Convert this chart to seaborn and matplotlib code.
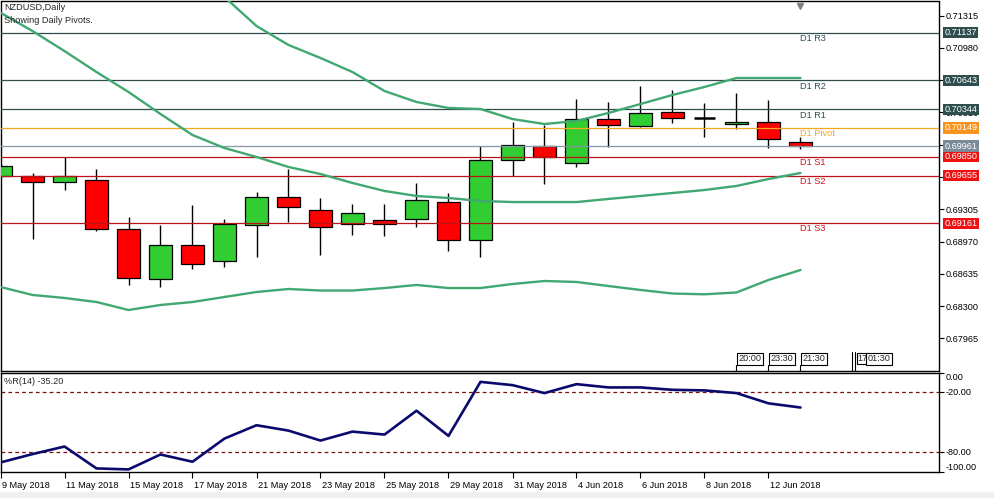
import numpy as np
import pandas as pd
import matplotlib
matplotlib.use("Agg")
import matplotlib.pyplot as plt
from matplotlib.transforms import ScaledTranslation, blended_transform_factory
from matplotlib.patches import Rectangle
import seaborn as sns

# ---------------- data ----------------
dates = ["9 May 2018", "10 May 2018", "11 May 2018", "14 May 2018", "15 May 2018",
         "16 May 2018", "17 May 2018", "18 May 2018", "21 May 2018", "22 May 2018",
         "23 May 2018", "24 May 2018", "25 May 2018", "28 May 2018", "29 May 2018",
         "30 May 2018", "31 May 2018", "1 Jun 2018", "4 Jun 2018", "5 Jun 2018",
         "6 Jun 2018", "7 Jun 2018", "8 Jun 2018", "11 Jun 2018", "12 Jun 2018",
         "13 Jun 2018"]

opens  = [0.69654, 0.69650, 0.69591, 0.69609, 0.69100, 0.68578, 0.68931, 0.68765,
          0.69139, 0.69429, 0.69294, 0.69149, 0.69190, 0.69201, 0.69377, 0.68983,
          0.69814, 0.69959, 0.69782, 0.70239, 0.70167, 0.70312, 0.70256, 0.70187,
          0.70208, 0.70000]
highs  = [0.69775, 0.69685, 0.69845, 0.69723, 0.69222, 0.69139, 0.69346, 0.69204,
          0.69484, 0.69723, 0.69419, 0.69360, 0.69360, 0.69575, 0.69471, 0.69962,
          0.70208, 0.70183, 0.70447, 0.70419, 0.70585, 0.70544, 0.70405, 0.70509,
          0.70440, 0.70059]
lows   = [0.69640, 0.68999, 0.69505, 0.69082, 0.68519, 0.68495, 0.68688, 0.68709,
          0.68813, 0.69176, 0.68835, 0.69038, 0.69031, 0.69124, 0.68875, 0.68806,
          0.69650, 0.69571, 0.69739, 0.69949, 0.70159, 0.70198, 0.70059, 0.70139,
          0.69944, 0.69928]
closes = [0.69754, 0.69591, 0.69650, 0.69097, 0.68588, 0.68931, 0.68734, 0.69149,
          0.69429, 0.69325, 0.69118, 0.69263, 0.69149, 0.69398, 0.68983, 0.69814,
          0.69969, 0.69845, 0.70239, 0.70177, 0.70302, 0.70250, 0.70256, 0.70211,
          0.70032, 0.69961]

band_upper = [np.nan, np.nan, np.nan, np.nan, np.nan, np.nan, 0.71842, 0.71509,
              0.71208, 0.71011, 0.70876, 0.70730, 0.70533, 0.70419, 0.70357, 0.70346,
              0.70242, 0.70190, 0.70222, 0.70305, 0.70398, 0.70492, 0.70575, 0.70668,
              0.70668, 0.70668]
band_mid = [0.71346, 0.71156, 0.70948, 0.70730, 0.70523, 0.70294, 0.70076, 0.69941,
            0.69848, 0.69744, 0.69671, 0.69578, 0.69495, 0.69443, 0.69422, 0.69391,
            0.69380, 0.69380, 0.69380, 0.69412, 0.69443, 0.69474, 0.69505, 0.69547,
            0.69619, 0.69682]
band_lower = [0.68498, 0.68415, 0.68384, 0.68342, 0.68259, 0.68311, 0.68342, 0.68394,
              0.68446, 0.68477, 0.68461, 0.68461, 0.68487, 0.68519, 0.68487, 0.68487,
              0.68529, 0.68560, 0.68550, 0.68508, 0.68467, 0.68430, 0.68422, 0.68441,
              0.68571, 0.68674]

wpr = [-90.4, -82.0, -74.4, -96.4, -97.4, -82.4, -89.7, -66.4, -53.0, -58.4, -68.4,
       -59.4, -62.4, -38.4, -63.7, -9.4, -12.7, -20.7, -11.7, -15.0, -15.0, -17.4,
       -18.0, -20.7, -31.0, -35.2]

pivot_names  = ["D1 R3", "D1 R2", "D1 R1", "D1 Pivot", "D1 S1", "D1 S2", "D1 S3"]
pivot_values = [0.71137, 0.70643, 0.70344, 0.70149, 0.69850, 0.69655, 0.69161]
current_price = 0.69961

price_ticks = [0.71315, 0.70980, 0.70645, 0.70310, 0.69975, 0.69640, 0.69305,
               0.68970, 0.68635, 0.68300, 0.67965]
wpr_ticks = [0, -20, -80, -100]
wpr_levels = [-20, -80]
time_labels = ["20:00", "23:30", "21:30"]

# ---------------- style ----------------
sns.set_style("white")
plt.rcParams["font.family"] = ["Liberation Sans", "DejaVu Sans"]
FS = 6.6

W, H = 994, 498
fig = plt.figure(figsize=(W / 100, H / 100), dpi=100)
fig.patches.append(Rectangle((0, 0), 1, 6 / H, transform=fig.transFigure,
                             color="#f0f0f0", zorder=0))


def px_axes(l, t, r, b):
    return fig.add_axes([l / W, 1 - b / H, (r - l) / W, (b - t) / H])


ax = px_axes(0.5, 1.5, 939, 370.5)
ax2 = px_axes(0.5, 372.5, 939, 472)

n = len(dates)
x = np.arange(n)
xmax = 938.5 / 32
df = pd.DataFrame({"x": x, "open": opens, "high": highs, "low": lows,
                   "close": closes, "up": band_upper, "mid": band_mid,
                   "lo": band_lower, "wpr": wpr})

# ---------------- main panel ----------------
ax.set_xlim(0, xmax)
ax.set_ylim(0.676307, 0.714625)

# candles
ax.vlines(df["x"], df["low"], df["high"], color="black", lw=1.0, zorder=3)
for i, r in df.iterrows():
    o, c = r["open"], r["close"]
    if abs(c - o) < 1e-6:
        ax.hlines(c, i - 0.34, i + 0.34, color="black", lw=1.8, zorder=4)
        continue
    col = "#32CD32" if c > o else "#FF0000"
    ax.bar(i, abs(c - o), bottom=min(o, c), width=0.69, color=col,
           edgecolor="black", linewidth=0.9, zorder=4)

# horizontal pivot lines
line_cols = ["#2F4F4F", "#2F4F4F", "#2F4F4F", "#F5A623", "#B8141A", "#B8141A", "#B8141A"]
text_cols = ["#2F4F4F", "#2F4F4F", "#2F4F4F", "#F5A623", "#D0101A", "#D0101A", "#D0101A"]
box_cols = ["#2F4F4F", "#2F4F4F", "#2F4F4F", "#F7941D", "#EE1111", "#EE1111", "#EE1111"]
for name, v, lc, tc in zip(pivot_names, pivot_values, line_cols, text_cols):
    ax.axhline(v, color=lc, lw=0.9, zorder=5)
    ax.annotate(name, xy=(n - 1, v), xytext=(0, -4.2), textcoords="offset points",
                ha="left", va="center", fontsize=FS, color=tc, zorder=6)
ax.axhline(current_price, color="#8796A5", lw=0.9, zorder=5)

# bands
for col in ["up", "mid", "lo"]:
    sns.lineplot(data=df, x="x", y=col, ax=ax, color="#41A872", lw=1.7,
                 legend=False, zorder=6)

# right axis ticks
ax.yaxis.tick_right()
ax.set_yticks(price_ticks)
ax.set_yticklabels([f"{t:.5f}" for t in price_ticks])
ax.tick_params(axis="y", right=True, left=False, labelright=True, labelleft=False,
               length=3.5, width=0.8, pad=1.2, labelsize=FS, colors="black",
               direction="out")
ax.set_xticks([])
ax.set_xlabel("")
ax.set_ylabel("")
for s in ax.spines.values():
    s.set_color("black")
    s.set_linewidth(1.0)

# value boxes on price axis
for v, bc in zip(pivot_values + [current_price], box_cols + ["#7A8A99"]):
    ax.annotate(f"{v:.5f}", xy=(1, v), xycoords=("axes fraction", "data"),
                xytext=(4.0, 0), textcoords="offset points", ha="left", va="center",
                fontsize=FS, color="white", annotation_clip=False, zorder=20,
                bbox=dict(boxstyle="square,pad=0.12", fc=bc, ec="none"))

# title
fig.text(4 / W, 1 - 8 / H, "NZDUSD,Daily", fontsize=FS, va="center", ha="left")
fig.text(4 / W, 1 - 20 / H, "Showing Daily Pivots.", fontsize=FS, va="center", ha="left")

# shift marker
tr = blended_transform_factory(ax.transData, ax.transAxes)
ax.plot([n - 1], [0.988], marker="v", color="#808080", ms=5, transform=tr,
        clip_on=False, zorder=10)

# time boxes at bottom
for k, lab in enumerate(time_labels):
    xx = 23 + k
    ax.text(xx + 0.06, 0.032, lab, transform=tr, fontsize=FS, ha="left", va="center",
            bbox=dict(boxstyle="square,pad=0.15", fc="white", ec="black", lw=0.8),
            zorder=10)
    ax.plot([xx, xx], [0, 0.015], color="black", lw=0.8, transform=tr, zorder=10)
ax.plot([26.62, 26.62], [0, 0.05], color="black", lw=0.8, transform=tr, zorder=10)
ax.plot([26.69, 26.69], [0, 0.05], color="black", lw=0.8, transform=tr, zorder=10)
ax.text(26.78, 0.032, "17", transform=tr, fontsize=FS, ha="left", va="center",
        bbox=dict(boxstyle="square,pad=0.1", fc="white", ec="black", lw=0.8), zorder=10)
ax.text(27.1, 0.032, "01:30", transform=tr, fontsize=FS, ha="left", va="center",
        bbox=dict(boxstyle="square,pad=0.15", fc="white", ec="black", lw=0.8), zorder=11)

# ---------------- %R panel ----------------
ax2.set_xlim(0, xmax)
ax2.set_ylim(-100, 0)
for lv in wpr_levels:
    ax2.axhline(lv, color="#7B1010", lw=0.9, ls=(0, (3, 2.5)), zorder=2)
sns.lineplot(data=df, x="x", y="wpr", ax=ax2, color="#0A0A6E", lw=1.9,
             legend=False, zorder=3)
ax2.text(4 / 938.5, 1 - 9 / 99.5, "%R(14) -35.20", transform=ax2.transAxes,
         fontsize=FS, ha="left", va="center")
ax2.yaxis.tick_right()
ax2.set_yticks(wpr_ticks)
ax2.set_yticklabels([f"{t:.2f}" for t in wpr_ticks])
for lab, va in zip(ax2.get_yticklabels(), ["top", "center", "center", "bottom"]):
    lab.set_verticalalignment(va)
ax2.tick_params(axis="y", right=True, left=False, labelright=True, labelleft=False,
                length=3.5, width=0.8, pad=1.2, labelsize=FS, colors="black")
ax2.set_xticks(x[::2])
ax2.set_xticklabels(dates[::2])
ax2.tick_params(axis="x", bottom=True, length=4, width=0.8, pad=2.5, labelsize=FS,
                colors="black", direction="out")
off = ScaledTranslation(2 / 100, 0, fig.dpi_scale_trans)
for lab in ax2.get_xticklabels():
    lab.set_horizontalalignment("left")
    lab.set_transform(lab.get_transform() + off)
ax2.set_xlabel("")
ax2.set_ylabel("")
for s in ax2.spines.values():
    s.set_color("black")
    s.set_linewidth(1.0)

fig.savefig("out.png", dpi=100)
